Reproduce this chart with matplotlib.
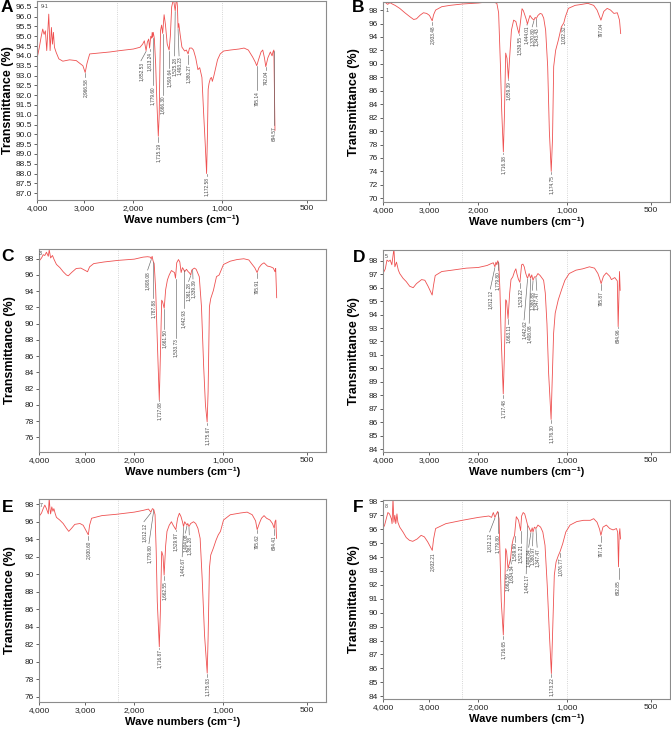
import numpy as np
import matplotlib
matplotlib.use("Agg")
import matplotlib.pyplot as plt

plt.rcParams['font.family'] = ['Liberation Sans', 'DejaVu Sans']

# ---- spectra (wavenumber cm-1, transmittance %) ----
wn_a = [4000, 3950, 3914, 3878, 3849, 3821, 3792, 3749, 3720, 3692, 3670, 3649, 3627, 3591, 3534, 3448,
        3304, 3161, 3075, 3020, 2966.58, 2925, 2885, 2857, 2613, 2368, 2161, 1996, 1921, 1891, 1872,
        1852.53, 1838, 1823, 1813.24, 1800, 1790, 1784, 1779.6, 1772, 1760, 1745, 1730, 1715.19, 1705,
        1697, 1690, 1678, 1666.3, 1650, 1635, 1615, 1593.64, 1580, 1565, 1545, 1525.28, 1510, 1500,
        1493.23, 1485, 1470, 1450, 1420, 1400, 1380.27, 1365, 1340, 1320, 1295, 1270, 1250, 1225, 1205,
        1188, 1172.58, 1163, 1155, 1145, 1130, 1118, 1108, 1090, 1070, 1050, 1020, 990, 950, 900, 870,
        845, 820, 805, 795.14, 785, 770, 760, 750, 742.04, 730, 715, 705, 700, 694.57, 688]
tr_a = [93.85, 94.44, 94.94, 95.37, 95.1, 95.28, 94.27, 96.13, 94.27, 95.45, 94.6, 95.2, 94.44, 94.18,
        93.85, 93.73, 93.8, 93.76, 93.6, 93.5, 93.15, 93.6, 93.9, 94.1, 94.15, 94.2, 94.27, 94.35, 94.44,
        94.6, 94.77, 94.27, 94.7, 94.86, 94.4, 95.0, 94.9, 95.2, 94.95, 95.2, 94.9, 93.6, 91.5, 89.9,
        91.0, 93.5, 95.3, 95.57, 95.15, 96.1, 95.6, 94.6, 94.3, 95.0, 96.5, 96.9, 96.3, 97.0, 96.5, 95.4,
        95.65, 95.1, 94.45, 94.25, 94.3, 94.1, 94.4, 94.4, 94.3, 93.9, 93.3, 93.4, 92.9, 91.0, 89.5,
        88.0, 90.0, 92.3, 92.6, 92.85, 92.9, 92.7, 93.0, 93.4, 93.8, 94.1, 94.25, 94.3, 94.35, 94.4,
        94.3, 93.95, 93.7, 93.5, 93.8, 94.2, 94.3, 93.9, 93.45, 93.9, 94.2, 94.0, 94.2, 94.3, 90.2]

wn_b = [4000, 3960, 3900, 3850, 3800, 3740, 3640, 3530, 3420, 3340, 3280, 3200, 3130, 3060, 3000,
        2933.48, 2900, 2850, 2700, 2500, 2200, 2000, 1900, 1820, 1790, 1770, 1750, 1735, 1716.38, 1705,
        1690, 1675, 1659.39, 1645, 1625, 1600, 1575, 1555, 1539.55, 1525, 1505, 1490, 1472, 1455,
        1444.01, 1432, 1415, 1395, 1370.80, 1357, 1343.43, 1325, 1300, 1280, 1260, 1238, 1215, 1196,
        1174.75, 1160, 1147, 1125, 1095, 1060, 1032.32, 1015, 990, 950, 910, 875, 840, 820, 797.04, 780,
        760, 740, 720, 700, 687, 680]
tr_b = [99.0, 99.2, 98.85, 99.1, 98.9, 98.7, 98.25, 97.6, 97.0, 96.6, 96.7, 97.25, 97.6, 97.5, 97.2,
        96.4, 97.3, 98.0, 98.5, 98.7, 98.9, 99.05, 99.2, 99.15, 99.0, 97.6, 90.0, 83.0, 76.9, 82.0,
        91.6, 90.8, 87.8, 91.0, 95.0, 96.5, 96.3, 95.2, 94.5, 96.0, 98.2, 97.9, 97.2, 96.5, 95.9, 96.5,
        97.2, 96.8, 96.5, 96.9, 96.75, 97.2, 97.5, 97.4, 96.8, 95.0, 89.6, 80.0, 74.0, 79.0, 89.6, 92.0,
        93.5, 95.5, 96.1, 97.0, 98.25, 98.7, 98.85, 99.0, 98.7, 98.0, 96.5, 97.8, 98.25, 98.0, 97.5,
        97.6, 96.5, 94.5]

wn_c = [4000, 3945, 3910, 3875, 3840, 3800, 3780, 3750, 3710, 3675, 3625, 3550, 3480, 3410, 3370,
        3300, 3200, 3100, 3020, 2950, 2900, 2800, 2550, 2200, 2000, 1900, 1850, 1820, 1808.08, 1798,
        1787.88, 1775, 1758, 1740, 1717.08, 1705, 1690, 1680, 1661.5, 1645, 1625, 1605, 1580, 1560,
        1545, 1533.73, 1520, 1500, 1485, 1470, 1455, 1442.93, 1430, 1410, 1390, 1375, 1361.28, 1350,
        1339.39, 1320, 1300, 1265, 1240, 1215, 1195, 1175.67, 1165, 1150, 1135, 1105, 1070, 1040, 1025,
        995, 955, 915, 875, 845, 825, 810, 795.91, 785, 770, 755, 735, 715, 700, 690, 686, 680]
tr_c = [97.7, 98.1, 98.5, 98.4, 98.8, 98.3, 99.1, 98.1, 98.4, 97.9, 97.3, 96.9, 96.4, 96.0, 95.9,
        96.3, 96.8, 96.85, 96.6, 96.4, 97.0, 97.4, 97.6, 97.8, 97.95, 98.2, 98.25, 98.2, 98.0, 98.3,
        97.75, 97.4, 94.2, 88.0, 80.6, 86.0, 92.9, 92.7, 91.9, 94.2, 95.4, 96.0, 96.55, 96.4, 96.3,
        95.6, 97.5, 97.9, 97.6, 96.3, 96.9, 96.7, 96.4, 96.7, 96.4, 96.25, 96.0, 96.6, 96.7, 96.85,
        96.7, 95.8, 92.1, 84.7, 80.0, 77.9, 81.6, 92.1, 93.1, 94.1, 95.8, 96.0, 96.4, 97.3, 97.7, 97.9,
        98.0, 97.85, 97.3, 96.9, 96.3, 96.9, 97.3, 97.5, 97.1, 97.0, 96.85, 96.4, 96.8, 93.2]

wn_d = [4000, 3950, 3915, 3880, 3845, 3810, 3780, 3765, 3745, 3710, 3670, 3640, 3570, 3500, 3425,
        3350, 3280, 3170, 3100, 3030, 2935, 2900, 2860, 2700, 2450, 2150, 2000, 1900, 1850, 1830,
        1812.12, 1800, 1790, 1779.8, 1768, 1755, 1740, 1717.48, 1705, 1690, 1680, 1663.11, 1645, 1630,
        1610, 1590, 1575, 1562, 1545, 1529.22, 1510, 1495, 1480, 1465, 1450, 1442.62, 1425, 1408.08,
        1395, 1380.88, 1365, 1347.47, 1325, 1300, 1261, 1242, 1223, 1204, 1176.3, 1167, 1148, 1130,
        1095, 1055, 1020, 985, 945, 905, 865, 835, 815, 805, 795.87, 782, 765, 745, 735, 715, 700,
        694.96, 690, 687, 683]
tr_d = [97.05, 97.4, 98.05, 97.95, 98.05, 97.7, 98.5, 98.9, 97.55, 97.9, 97.3, 97.05, 96.7, 96.45,
        96.1, 96.0, 96.3, 96.6, 96.55, 96.1, 95.45, 96.2, 96.9, 97.2, 97.3, 97.45, 97.5, 97.65, 97.8,
        97.85, 97.55, 97.9, 97.7, 98.0, 97.8, 95.8, 92.1, 88.1, 90.9, 95.1, 95.0, 93.7, 95.6, 96.6,
        96.8, 97.2, 97.4, 97.0, 96.6, 96.4, 97.7, 97.75, 97.55, 97.1, 96.8, 96.7, 97.05, 96.7, 96.95,
        96.55, 96.8, 96.8, 97.05, 96.9, 96.55, 95.6, 93.3, 89.6, 86.2, 88.4, 92.6, 94.1, 95.1, 95.9,
        96.55, 97.05, 97.3, 97.4, 97.55, 97.45, 97.05, 96.7, 96.3, 96.85, 97.1, 96.85, 96.6, 96.75,
        96.5, 93.1, 95.6, 97.2, 95.8]

wn_e = [4000, 3945, 3910, 3875, 3840, 3800, 3780, 3765, 3750, 3725, 3700, 3680, 3650, 3625, 3555,
        3480, 3410, 3360, 3300, 3230, 3120, 3050, 2930.6, 2900, 2850, 2600, 2250, 2000, 1900, 1840,
        1812.12, 1795, 1779.8, 1765, 1752, 1740, 1716.87, 1705, 1690, 1675, 1662.55, 1645, 1630, 1605,
        1580, 1560, 1529.97, 1510, 1490, 1472, 1455, 1442.67, 1430, 1404.08, 1395, 1381.28, 1362, 1330,
        1305, 1280, 1255, 1232, 1205, 1175.03, 1165, 1150, 1135, 1105, 1075, 1050, 1025, 995, 955, 895,
        855, 825, 805, 795.62, 782, 770, 755, 740, 720, 705, 694.41, 690, 685, 681]
tr_e = [96.6, 97.0, 97.5, 97.9, 97.5, 96.9, 98.7, 97.5, 96.9, 97.7, 97.2, 97.5, 96.9, 96.5, 96.2,
        95.8, 95.25, 94.9, 95.25, 95.7, 95.8, 95.6, 94.5, 95.6, 96.4, 96.7, 96.85, 97.1, 97.3, 97.45,
        97.1, 97.5, 97.4, 96.8, 92.6, 86.9, 81.7, 85.7, 92.6, 92.1, 89.9, 93.3, 94.9, 95.6, 96.0, 95.6,
        95.1, 96.4, 96.97, 96.6, 96.0, 95.45, 96.0, 95.6, 95.8, 95.45, 95.8, 96.0, 95.8, 95.25, 94.1,
        89.5, 83.0, 78.7, 82.7, 90.7, 92.2, 93.0, 93.9, 94.5, 94.9, 96.2, 96.8, 97.0, 97.1, 96.8, 96.1,
        95.1, 95.85, 96.4, 96.7, 96.4, 96.2, 95.8, 95.25, 96.0, 96.2, 94.1]

wn_f = [4000, 3965, 3930, 3895, 3860, 3820, 3805, 3785, 3765, 3745, 3725, 3700, 3680, 3640, 3570,
        3500, 3430, 3360, 3265, 3180, 3110, 3040, 2932.21, 2900, 2850, 2600, 2200, 2000, 1880, 1850,
        1830, 1812.12, 1795, 1779.8, 1765, 1755, 1740, 1716.65, 1705, 1690, 1680, 1663.59, 1650,
        1634.34, 1620, 1605, 1589.9, 1570, 1560, 1545, 1521.21, 1510, 1492, 1475, 1460, 1442.17, 1425,
        1404.84, 1390, 1380.97, 1365, 1347.47, 1325, 1295, 1270, 1245, 1220, 1195, 1173.22, 1160, 1140,
        1120, 1095, 1076.77, 1045, 1010, 980, 940, 900, 860, 840, 820, 805, 797.14, 785, 765, 745, 725,
        705, 698, 692.85, 689, 685, 681]
tr_f = [96.05, 96.3, 96.75, 97.2, 97.1, 96.75, 96.4, 98.2, 96.5, 97.0, 96.4, 97.1, 96.5, 96.15, 95.8,
        95.4, 95.2, 95.13, 95.3, 95.56, 95.45, 95.1, 94.48, 95.3, 96.05, 96.4, 96.64, 96.85, 96.95,
        96.85, 97.2, 96.85, 97.1, 97.28, 96.75, 94.36, 90.8, 88.4, 90.8, 94.6, 94.4, 93.17, 93.5, 93.9,
        94.84, 95.3, 95.56, 96.9, 96.8, 96.65, 95.9, 96.95, 97.2, 97.1, 96.75, 96.3, 96.1, 95.8, 96.1,
        95.8, 96.15, 96.05, 96.3, 96.15, 95.8, 94.84, 91.97, 88.4, 85.63, 88.4, 92.7, 93.65, 94.1,
        94.36, 94.96, 95.8, 96.3, 96.55, 96.64, 96.64, 96.76, 96.5, 96.0, 95.56, 96.15, 96.3, 96.05,
        95.95, 96.05, 95.8, 93.3, 95.6, 96.04, 95.3]

# ---- picked peaks ----
pk_a = [2966.58, 1852.53, 1813.24, 1779.60, 1715.19, 1666.30, 1593.64, 1525.28, 1493.23, 1380.27,
        1172.58, 795.14, 742.04, 694.57]
pk_b = [2933.48, 1716.38, 1659.39, 1539.55, 1444.01, 1370.80, 1343.43, 1174.75, 1032.32, 797.04]
pk_c = [1808.08, 1787.88, 1717.08, 1661.50, 1533.73, 1442.93, 1361.28, 1339.39, 1175.67, 795.91]
pk_d = [1812.12, 1779.80, 1717.48, 1663.11, 1529.22, 1442.62, 1408.08, 1380.88, 1347.47, 1176.30,
        795.87, 694.96]
pk_e = [2930.60, 1812.12, 1779.80, 1716.87, 1662.55, 1529.97, 1442.67, 1404.08, 1381.28, 1175.03,
        795.62, 694.41]
pk_f = [2932.21, 1812.12, 1779.80, 1716.65, 1663.59, 1634.34, 1589.90, 1521.21, 1442.17, 1404.84,
        1380.97, 1347.47, 1173.22, 1076.77, 797.14, 692.85]

sample_ids = ["9-1", "1", "3", "5", "7", "8"]
letters = ["A", "B", "C", "D", "E", "F"]

# ---- layout: where the peak labels sit (top of text, in % T) ----
lab_a = [92.9, 93.75, 94.25, 92.5, 89.6, 92.0, 93.4, 94.0, 94.0, 93.6, 87.85, 92.25, 93.3, 90.45]
lab_b = [95.8, 76.6, 87.6, 94.3, 95.8, 95.5, 95.5, 73.6, 95.8, 96.3]
lab_c = [96.6, 93.15, 80.6, 89.4, 88.3, 91.9, 95.2, 95.5, 77.5, 95.6]
lab_d = [95.9, 97.3, 87.8, 93.3, 96.0, 93.6, 93.35, 95.8, 95.8, 85.9, 95.8, 93.0]
lab_e = [93.9, 96.0, 93.5, 81.5, 89.3, 94.9, 92.0, 94.7, 94.5, 78.3, 94.7, 94.5]
lab_f = [94.4, 95.8, 95.7, 88.1, 93.0, 93.5, 95.1, 95.0, 92.8, 94.7, 94.8, 94.7, 85.4, 94.0, 95.1, 92.4]
# labels pushed sideways (peak -> label x)
shift_a = {1852.53: 1910, 1525.28: 1532, 1493.23: 1482}
shift_b = {1444.01: 1452, 1370.80: 1390, 1343.43: 1338}
shift_c = {1808.08: 1849, 1361.28: 1386, 1339.39: 1336}
shift_d = {1812.12: 1864, 1442.62: 1482, 1408.08: 1424, 1380.88: 1388, 1347.47: 1338}
shift_e = {1812.12: 1891, 1779.80: 1834, 1442.67: 1458, 1404.08: 1422, 1381.28: 1378}
shift_f = {1812.12: 1872, 1663.59: 1676, 1634.34: 1626, 1442.17: 1458, 1404.84: 1430,
           1380.97: 1386, 1347.47: 1334}

yticks_all = [np.arange(87.0, 96.51, 0.5), np.arange(70, 99, 2), np.arange(76, 99, 2),
              np.arange(84, 99, 1), np.arange(76, 99, 2), np.arange(84, 99, 1)]
ylims = [(86.65, 96.8), (69.45, 99.2), (74.2, 99.2), (83.78, 98.8), (75.4, 98.6), (83.8, 98.1)]
yfmt = ["%.1f", "%d", "%d", "%d", "%d", "%d"]
id_pos = [(3830, 96.5), (3906, 98.0), (3964, 98.6), (3920, 98.35), (3943, 97.85), (3928, 97.6)]

# axes rectangles in pixels: left, top, right, bottom
W, H = 671, 730
rects_px = [(37, 1, 326, 200), (383, 2, 670, 202), (39, 249, 326, 452),
            (383, 250, 670, 452), (39, 499, 326, 702), (383, 500, 670, 699)]
letter_px = [(7, 8), (358, 8), (8, 257), (359, 258), (8, 507), (358, 507)]

# non-linear wavenumber axis (compressed above 2200 cm-1)
kw = [400, 500, 1000, 2000, 2200, 3000, 4000]
kp = [0.0, 0.066, 0.36, 0.668, 0.724, 0.838, 1.0]


def fwd(w):
    return np.interp(w, kw, kp)


def inv(p):
    return np.interp(p, kp, kw)


spectra = [(wn_a, tr_a), (wn_b, tr_b), (wn_c, tr_c), (wn_d, tr_d), (wn_e, tr_e), (wn_f, tr_f)]
peaks = [pk_a, pk_b, pk_c, pk_d, pk_e, pk_f]
labs = [lab_a, lab_b, lab_c, lab_d, lab_e, lab_f]
shifts = [shift_a, shift_b, shift_c, shift_d, shift_e, shift_f]

fig = plt.figure(figsize=(W / 100, H / 100), dpi=100)

for i in range(6):
    l, t, r, b = rects_px[i]
    ax = fig.add_axes([l / W, 1 - b / H, (r - l) / W, (b - t) / H])
    ax.set_xscale('function', functions=(fwd, inv))
    ax.set_xlim(4000, 400)
    ax.set_ylim(*ylims[i])

    wn, tr = spectra[i]
    ax.axvline(2200, color='#c8c8c8', ls=':', lw=0.6)
    ax.axvline(1000, color='#c8c8c8', ls=':', lw=0.6)
    ax.plot(wn, tr, color='#ee5050', lw=0.6)

    # peak labels with leader lines
    wr = np.array(wn[::-1])
    trr = np.array(tr[::-1])
    yr = ylims[i][1] - ylims[i][0]
    for p, ytop in zip(peaks[i], labs[i]):
        xl = shifts[i].get(p, p)
        yc = np.interp(p, wr, trr) - 0.004 * yr
        ax.plot([p, xl], [yc, ytop], color='#666666', lw=0.45)
        ax.text(xl, ytop - 0.004 * yr, f"{p:,.2f}", rotation=90, ha='center', va='top',
                fontsize=3.4, color='#444444')

    ax.text(id_pos[i][0], id_pos[i][1], sample_ids[i], fontsize=3.8, color='#444444',
            ha='center', va='center')

    ax.set_xticks([4000, 3000, 2000, 1000, 500])
    ax.set_xticklabels(["4,000", "3,000", "2,000", "1,000", "500"])
    ax.set_yticks(yticks_all[i])
    ax.set_yticklabels([yfmt[i] % v for v in yticks_all[i]])
    ax.minorticks_off()
    ax.tick_params(labelsize=6, length=2, width=0.5, pad=1.5, colors='#222222')
    for s in ax.spines.values():
        s.set_color('#8c8c8c')
        s.set_linewidth(0.8)

    ax.set_xlabel("Wave numbers (cm\u207b\u00b9)", fontsize=8, fontweight='bold', labelpad=2)
    ax.set_ylabel("Transmittance (%)", fontsize=9, fontweight='bold', labelpad=2)
    ax.yaxis.set_label_coords(-0.08, 0.5)

    lx, ly = letter_px[i]
    fig.text(lx / W, 1 - ly / H, letters[i], fontsize=12.5, fontweight='bold',
             ha='center', va='center')

fig.savefig("out.png", dpi=100)
